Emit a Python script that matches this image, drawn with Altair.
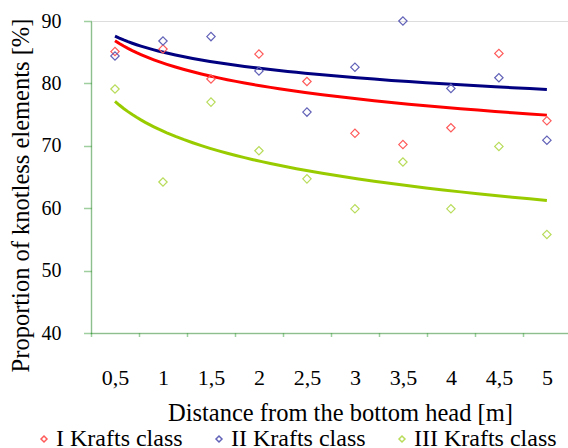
import altair as alt
import pandas as pd

distance = [0.5, 1, 1.5, 2, 2.5, 3, 3.5, 4, 4.5, 5]
tick_labels = ["0,5", "1", "1,5", "2", "2,5", "3", "3,5", "4", "4,5", "5"]
class_I = [85.1, 85.5, 80.7, 84.7, 80.3, 72.0, 70.2, 72.9, 84.8, 74.0]
class_II = [84.4, 86.8, 87.5, 82.0, 75.4, 82.6, 90.0, 79.2, 80.9, 70.9]
class_III = [79.1, 64.2, 77.0, 69.2, 64.7, 59.9, 67.4, 59.9, 69.9, 55.8]
series_names = ["I Krafts class", "II Krafts class", "III Krafts class"]
boundaries = [0.25, 0.75, 1.25, 1.75, 2.25, 2.75, 3.25, 3.75, 4.25, 4.75]

rows = []
for name, vals in zip(series_names, [class_I, class_II, class_III]):
    for d, v in zip(distance, vals):
        rows.append({"x": d, "y": v, "cls": name})
df = pd.DataFrame(rows)

FONT = "'Liberation Serif', 'Times New Roman', Times, 'DejaVu Serif', serif"
GREEN = "#3f9f3f"
point_colors = ["#ff5a5a", "#6262b8", "#b8dc5a"]
line_colors = ["#ff0000", "#000080", "#99cc00"]

label_expr = "{" + ",".join(f"'{d}':'{t}'" for d, t in zip(distance, tick_labels)) + "}[datum.value]"

xscale = alt.Scale(domain=[0.25, 5.22], nice=False, zero=False)
yscale = alt.Scale(domain=[40, 90], nice=False, zero=False)

points = alt.Chart(df).mark_point(shape="diamond", filled=False, size=70, strokeWidth=1.2, opacity=1).encode(
    x=alt.X("x:Q", scale=xscale, axis=alt.Axis(
        orient="bottom", values=distance, labelExpr=label_expr, ticks=False, grid=False,
        domainColor=GREEN, domainDash=[1, 1], domainWidth=1.5,
        labelFont=FONT, labelFontSize=22, labelColor="black", labelBaseline="middle",
        labelPadding=44, labelFlush=False, labelOverlap=False,
        title="Distance from the bottom head [m]", titleFont=FONT, titleFontSize=24.5,
        titleFontWeight="normal", titleColor="black", titleX=249, titleY=80,
        titleBaseline="middle", titleAlign="center")),
    y=alt.Y("y:Q", scale=yscale, axis=alt.Axis(
        values=[40, 50, 60, 70, 80, 90], grid=False,
        domainColor=GREEN, domainDash=[1, 1], domainWidth=1.5,
        tickColor=GREEN, tickDash=[1, 1], tickSize=8, tickWidth=1.5,
        labelFont=FONT, labelFontSize=20, labelColor="black", labelPadding=22,
        title="Proportion of knotless elements [%]", titleFont=FONT, titleFontSize=24.5,
        titleFontWeight="normal", titleColor="black", titleAngle=270,
        titleX=-70, titleY=174, titleBaseline="middle", titleAlign="center")),
    color=alt.Color("cls:N", scale=alt.Scale(domain=series_names, range=point_colors),
                    sort=series_names,
                    legend=alt.Legend(
                        title=None, orient="none", direction="horizontal",
                        legendX=-59, legendY=406,
                        labelFont=FONT, labelFontSize=24, labelColor="black",
                        symbolSize=36, symbolStrokeWidth=1.5, symbolType="diamond",
                        columnPadding=24, labelOffset=0, labelLimit=300)),
)

trend = alt.Chart(df).transform_regression(
    "x", "y", groupby=["cls"], method="log", extent=[0.5, 5]
).mark_line(strokeWidth=3).encode(
    x=alt.X("x:Q", scale=xscale, axis=alt.Axis(
        orient="bottom", values=boundaries, labels=False, domain=False, grid=False,
        tickColor=GREEN, tickDash=[1, 1], tickSize=4, tickWidth=1.5, title=None)),
    y=alt.Y("y:Q", scale=yscale),
    color=alt.Color("cls:N", scale=alt.Scale(domain=series_names, range=line_colors), legend=None),
    detail="cls:N",
)

chart = alt.layer(trend, points).resolve_scale(color="independent").resolve_axis(x="independent").properties(
    width=477, height=312,
    autosize=alt.AutoSizeParams(type="none"),
    padding={"left": 91, "top": 21, "right": 0, "bottom": 115},
).configure_view(stroke=None).configure(background="white")

chart.save("out.html", embed_options={"renderer": "svg", "actions": False})
